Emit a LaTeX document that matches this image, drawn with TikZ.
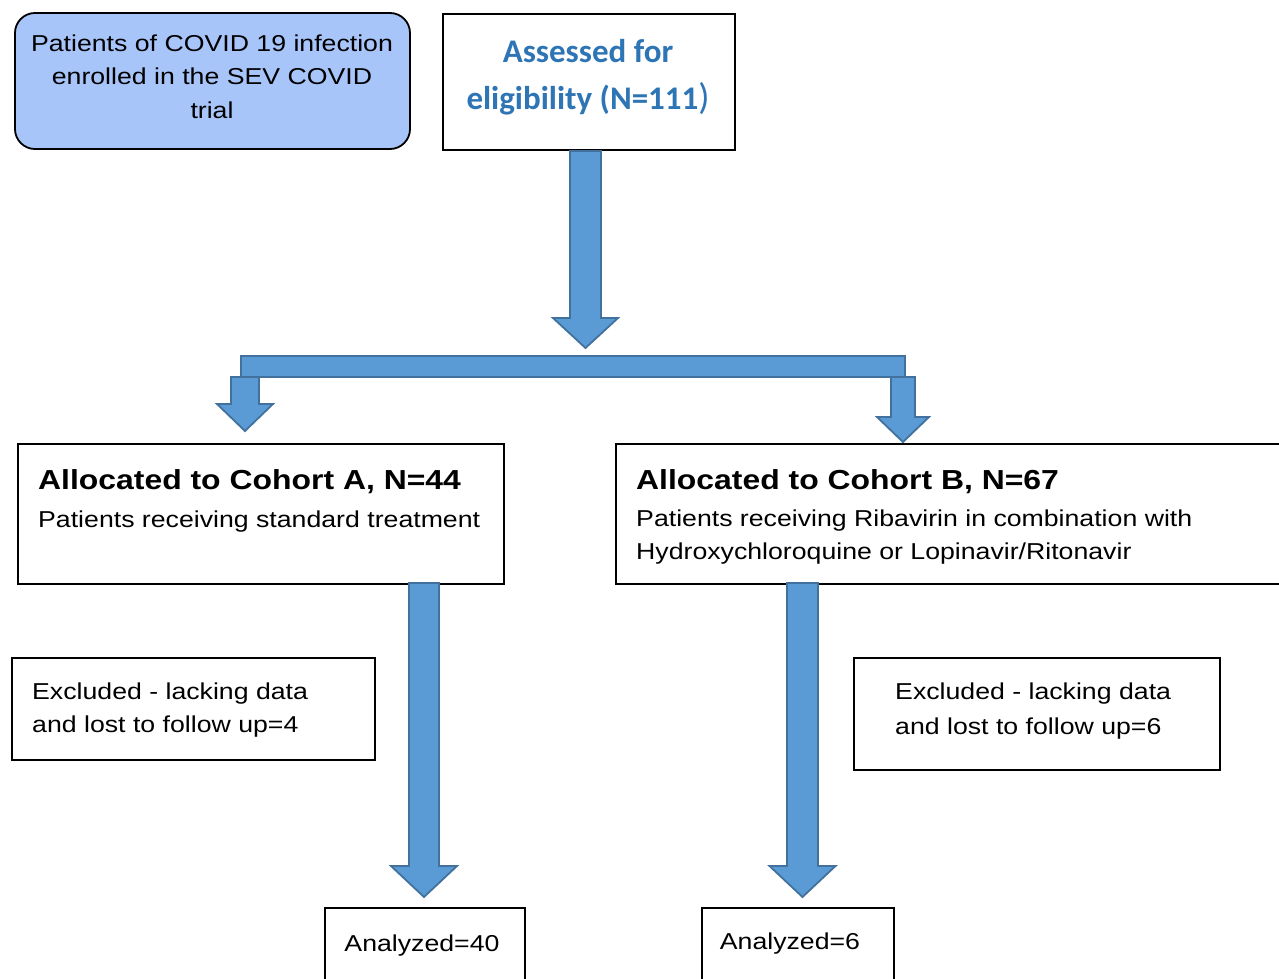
\documentclass[tikz,border=0pt]{standalone}
\usepackage{fontspec}
\setmainfont{Liberation Sans}
\newfontfamily\bodyfont[FakeStretch=1.16]{Liberation Sans}
\newfontfamily\calib{Carlito}
\definecolor{boxblue}{HTML}{A8C5FA}
\definecolor{arrfill}{HTML}{5B9BD5}
\definecolor{arrline}{HTML}{41719C}
\definecolor{txtblue}{HTML}{2E75B6}
\newcommand\blockarr[6]{%
  \filldraw[arrowsty] ({#1-#4},#2) -- ({#1+#4},#2) -- ({#1+#4},{#3-#6}) -- ({#1+#5},{#3-#6})
   -- (#1,#3) -- ({#1-#5},{#3-#6}) -- ({#1-#4},{#3-#6}) -- cycle;}
\begin{document}
\begin{tikzpicture}[x=1pt,y=-1pt,
  boxsty/.style={draw=black, line width=1.8pt, fill=white},
  arrowsty/.style={fill=arrfill, draw=arrline, line width=1.8pt, line join=miter},
  txt/.style={inner sep=0pt, font=\bodyfont\fontsize{23}{28}\selectfont},
  ttl/.style={inner sep=0pt, font=\bodyfont\fontsize{27.5}{32}\selectfont\bfseries},
  bluetxt/.style={inner sep=0pt, text=txtblue, font=\calib\fontsize{33}{38}\selectfont\bfseries}]
\useasboundingbox (0,0) rectangle (1279,979);
\clip (0,0) rectangle (1279,979);
% boxes
\draw[draw=black, line width=1.8pt, fill=boxblue, rounded corners=20pt] (15,13) rectangle (410,149);
\node[boxsty, minimum width=292pt, minimum height=136pt, anchor=north west] (assess) at (442,13) {};
\node[boxsty, minimum width=486pt, minimum height=140pt, anchor=north west] (cohA) at (17,443) {};
\node[boxsty, minimum width=700pt, minimum height=140pt, anchor=north west] (cohB) at (615,443) {};
\node[boxsty, minimum width=363pt, minimum height=102pt, anchor=north west] (excA) at (11,657) {};
\node[boxsty, minimum width=366pt, minimum height=112pt, anchor=north west] (excB) at (853,657) {};
\node[boxsty, minimum width=200pt, minimum height=100pt, anchor=north west] (anA) at (324,907) {};
\node[boxsty, minimum width=192pt, minimum height=100pt, anchor=north west] (anB) at (701,907) {};
% texts
\node[txt, anchor=base] (e1) at (212,52) {Patients of COVID 19 infection};
\node[txt, anchor=base] (e2) at (212,85) {enrolled in the SEV COVID};
\node[txt, anchor=base] (e3) at (212,118) {trial};
\node[bluetxt, anchor=base] (a1) at (588,63) {Assessed for};
\node[bluetxt, anchor=base] (a2) at (588,110) {eligibility (N=111{\fontsize{37}{37}\selectfont\mdseries)}};
\node[ttl, anchor=base west] (ta) at (38,489) {Allocated to Cohort A, N=44};
\node[txt, anchor=base west] (sa) at (38,527) {Patients receiving standard treatment};
\node[ttl, anchor=base west] (tb) at (636,489) {Allocated to Cohort B, N=67};
\node[txt, anchor=base west] (sb1) at (636,526) {Patients receiving Ribavirin in combination with};
\node[txt, anchor=base west] (sb2) at (636,559) {Hydroxychloroquine or Lopinavir/Ritonavir};
\node[txt, anchor=base west] (xa1) at (32,699) {Excluded - lacking data};
\node[txt, anchor=base west] (xa2) at (32,732) {and lost to follow up=4};
\node[txt, anchor=base west] (xb1) at (895,699) {Excluded - lacking data};
\node[txt, anchor=base west] (xb2) at (895,734) {and lost to follow up=6};
\node[txt, anchor=base] (na) at (422,951) {Analyzed=40};
\node[txt, anchor=base] (nb) at (790,949) {Analyzed=6};
% block arrows
\blockarr{585.5}{151}{348}{15.5}{32.5}{30}
\filldraw[arrowsty] (241,356) rectangle (905,377);
\blockarr{245}{377}{431}{14}{28}{27}
\blockarr{903}{377}{442}{12}{26}{25}
\blockarr{424}{583}{897}{15}{33}{31}
\blockarr{802.5}{583}{897}{15.5}{33}{31}
\end{tikzpicture}
\end{document}
